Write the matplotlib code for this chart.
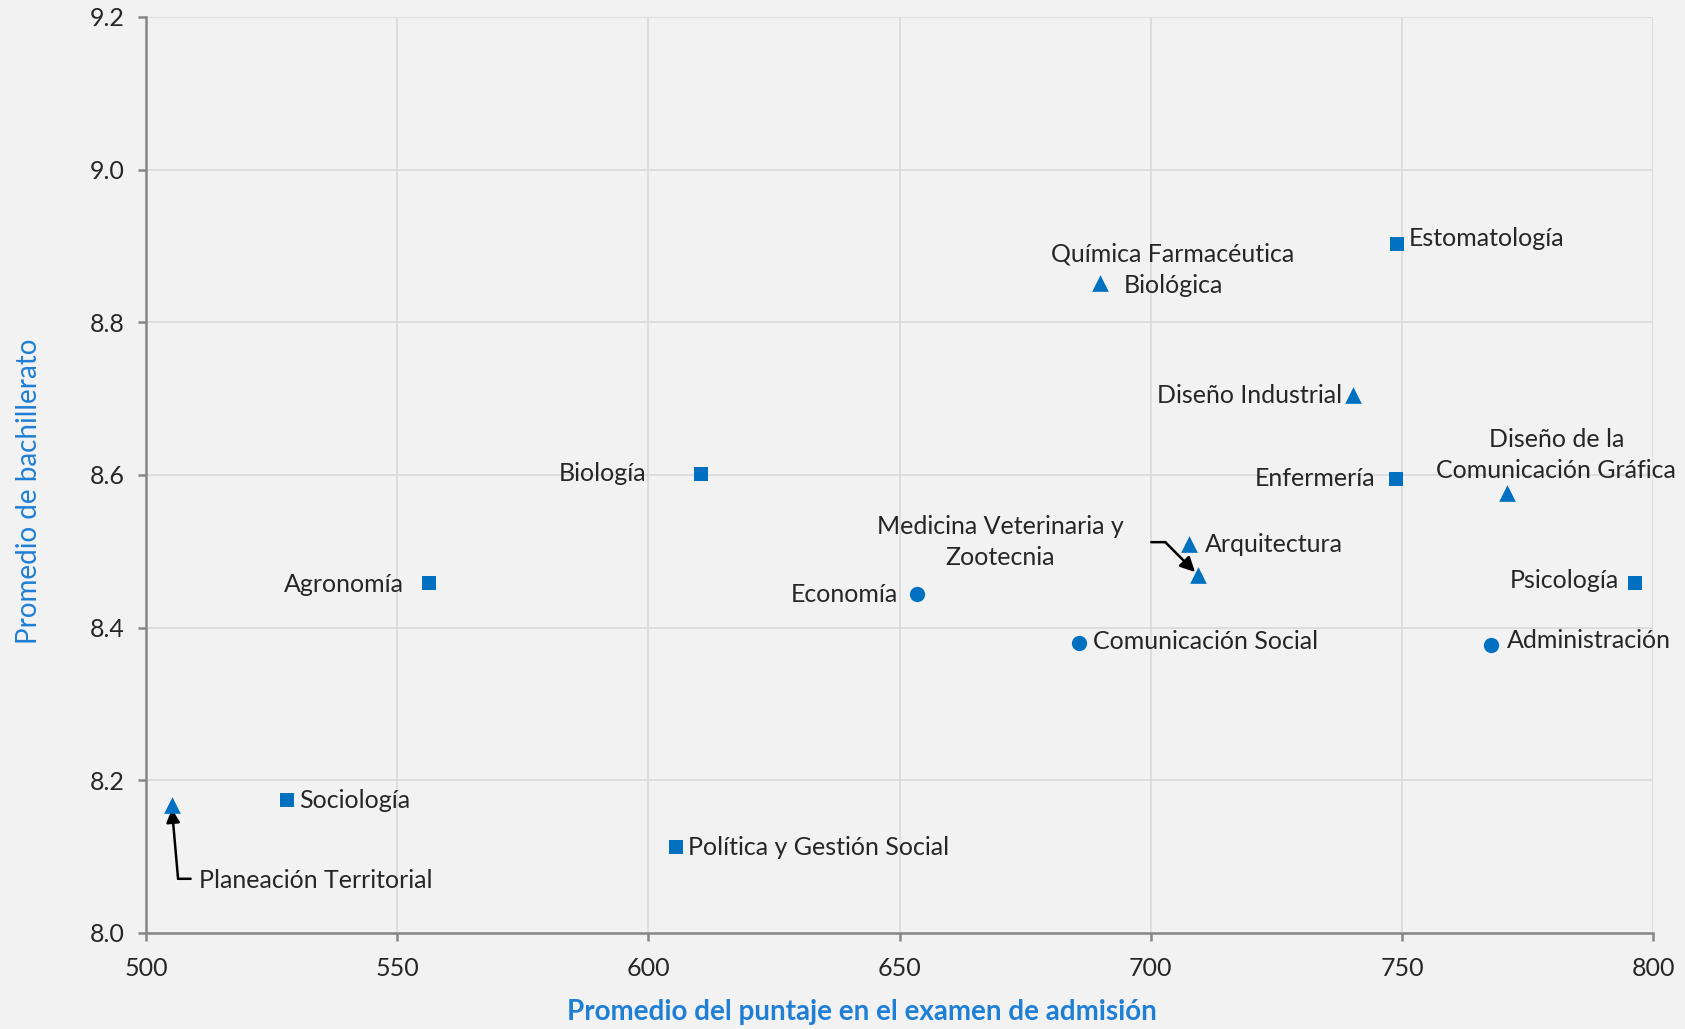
import matplotlib
matplotlib.use("Agg")
import matplotlib.pyplot as plt

plt.rcParams['font.family'] = ['Lato', 'DejaVu Sans']

# ---- data ----
sq_names = ["Estomatología", "Biología", "Enfermería", "Psicología", "Agronomía",
            "Sociología", "Política y Gestión Social"]
sq_x = [749.0, 610.5, 748.8, 796.4, 556.3, 528.1, 605.6]
sq_y = [8.903, 8.601, 8.595, 8.459, 8.458, 8.174, 8.112]

tri_names = ["Química Farmacéutica\nBiológica", "Diseño Industrial",
             "Diseño de la\nComunicación Gráfica", "Arquitectura",
             "Medicina Veterinaria y\nZootecnia", "Planeación Territorial"]
tri_x = [689.9, 740.3, 770.9, 707.7, 709.4, 505.1]
tri_y = [8.852, 8.705, 8.577, 8.510, 8.469, 8.168]

ci_names = ["Economía", "Comunicación Social", "Administración"]
ci_x = [653.5, 685.7, 767.7]
ci_y = [8.444, 8.380, 8.377]

x_ticks = [500, 550, 600, 650, 700, 750, 800]
y_ticks = [8.0, 8.2, 8.4, 8.6, 8.8, 9.0, 9.2]
y_tick_labels = ["8.0", "8.2", "8.4", "8.6", "8.8", "9.0", "9.2"]

x_label = "Promedio del puntaje en el examen de admisión"
y_label = "Promedio de bachillerato"

# ---- label layout (offset points, ha) ----
layout = {
    "Estomatología": (8.5, 3.9, 'left'),
    "Biología": (-39.5, 0.8, 'right'),
    "Enfermería": (-14.7, 0.0, 'right'),
    "Psicología": (-11.6, 1.5, 'right'),
    "Agronomía": (-17.8, -0.8, 'right'),
    "Sociología": (8.5, 0.0, 'left'),
    "Política y Gestión Social": (8.5, 0.0, 'left'),
    "Química Farmacéutica\nBiológica": (52.6, 9.3, 'center'),
    "Diseño Industrial": (-7.7, -0.8, 'right'),
    "Diseño de la\nComunicación Gráfica": (35.6, 26.7, 'center'),
    "Arquitectura": (10.8, -0.8, 'left'),
    "Medicina Veterinaria y\nZootecnia": (-142.4, 23.6, 'center'),
    "Planeación Territorial": (20.1, -54.2, 'left'),
    "Economía": (-13.9, 0.0, 'right'),
    "Comunicación Social": (10.0, 0.8, 'left'),
    "Administración": (11.6, 3.1, 'left'),
}

blue = '#0070C0'
label_blue = '#1F7FD4'
txt = '#262626'
bg = '#f2f2f2'

fig = plt.figure(figsize=(16.85, 10.29), dpi=100, facecolor=bg)
ax = fig.add_axes([0.0866, 0.0933, 0.8945, 0.8902])
ax.set_facecolor(bg)

ms = 10.5
ax.scatter(sq_x, sq_y, marker='s', s=ms**2, color=blue, zorder=3, linewidths=0)
ax.scatter(tri_x, tri_y, marker='^', s=(ms+1.5)**2, color=blue, zorder=3, linewidths=0)
ax.scatter(ci_x, ci_y, marker='o', s=(ms+0.5)**2, color=blue, zorder=3, linewidths=0)

lab_fs = 18
for names, xs, ys in [(sq_names, sq_x, sq_y), (tri_names, tri_x, tri_y), (ci_names, ci_x, ci_y)]:
    for n, x, y in zip(names, xs, ys):
        dx, dy, ha = layout[n]
        ax.annotate(n, (x, y), xytext=(dx, dy), textcoords='offset points',
                    ha=ha, va='center', fontsize=lab_fs, color=txt,
                    multialignment='center', linespacing=1.42, zorder=4)

# leader lines
mx, my = tri_x[4], tri_y[4]
ax.annotate('', xy=(mx, my), xytext=(702.9, 8.512),
            arrowprops=dict(arrowstyle='-|>', color='black', lw=1.8,
                            mutation_scale=22, shrinkA=0, shrinkB=3), zorder=2)
ax.annotate('', xy=(702.9, 8.512), xytext=(700.1, 8.512),
            arrowprops=dict(arrowstyle='-', color='black', lw=1.8,
                            shrinkA=0, shrinkB=0), zorder=2)
px, py = tri_x[5], tri_y[5]
ax.annotate('', xy=(px, py), xytext=(506.4, 8.071),
            arrowprops=dict(arrowstyle='-|>', color='black', lw=1.8,
                            mutation_scale=20, shrinkA=0, shrinkB=3), zorder=2)
ax.annotate('', xy=(506.4, 8.071), xytext=(508.9, 8.071),
            arrowprops=dict(arrowstyle='-', color='black', lw=1.8,
                            shrinkA=0, shrinkB=0), zorder=2)

ax.set_xlim(500, 800)
ax.set_ylim(8.0, 9.2)
ax.set_xticks(x_ticks)
ax.set_xticklabels([str(v) for v in x_ticks])
ax.set_yticks(y_ticks)
ax.set_yticklabels(y_tick_labels)

ax.grid(True, color='#d9d9d9', lw=1.2, zorder=0)
ax.set_axisbelow(True)
for s in ['top', 'right']:
    ax.spines[s].set_visible(False)
for s in ['left', 'bottom']:
    ax.spines[s].set_color('#868686')
    ax.spines[s].set_linewidth(1.8)
ax.tick_params(axis='both', colors='#868686', length=6, width=1.8,
               labelsize=18, labelcolor=txt)
ax.tick_params(axis='x', pad=11)
ax.tick_params(axis='y', pad=9)

ax.set_xlabel(x_label, fontsize=20, fontweight='bold', color=label_blue)
ax.xaxis.set_label_coords(0.475, -0.072)
ax.set_ylabel(y_label, fontsize=20, color=label_blue)
ax.yaxis.set_label_coords(-0.069, 0.482)

fig.savefig('out.png', dpi=100, facecolor=bg)
